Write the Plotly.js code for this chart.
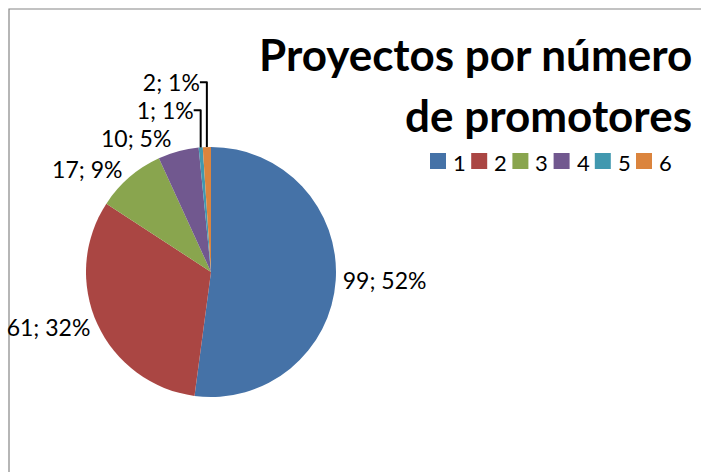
<!DOCTYPE html>
<html><head><meta charset="utf-8">
<script src="https://cdn.plot.ly/plotly-3.0.1.min.js"></script>
<style>html,body{margin:0;padding:0;background:#fff}#c{width:701px;height:472px}</style>
</head><body><div id="c"></div>
<script>
const categories = ['1','2','3','4','5','6'];
const values = [99, 61, 17, 10, 1, 2];
const colors = ['#4572A7','#AA4643','#89A54E','#71588F','#4198AF','#DB843D'];
const titleLines = ['Proyectos por número', 'de promotores'];

const W = 701, H = 472;
const FONT = 'Lato, "Open Sans", sans-serif';

const trace = {
  type: 'pie',
  labels: categories,
  values: values,
  sort: false,
  direction: 'clockwise',
  rotation: 0,
  marker: {colors: colors, line: {color: '#fff', width: 0}},
  texttemplate: '%{value}; %{percent:.0%}',
  textposition: 'outside',
  textfont: {family: FONT, size: 23, color: '#000'},
  domain: {x: [86/W, 336/W], y: [1 - 397/H, 1 - 147/H]},
  hoverinfo: 'none',
  showlegend: false
};

// custom legend (layout positions only; categories/colours come from the arrays)
const legShapes = [], legAnn = [];
categories.forEach((c, i) => {
  const x0 = 430 + i * 41.2;
  legShapes.push({type: 'rect', xref: 'paper', yref: 'paper',
    x0: x0 / W, x1: (x0 + 16) / W, y0: 1 - 169 / H, y1: 1 - 153 / H,
    fillcolor: colors[i], line: {width: 0}});
  legAnn.push({text: c, xref: 'paper', yref: 'paper', x: (x0 + 21) / W, y: 1 - 162 / H,
    xanchor: 'left', yanchor: 'middle', showarrow: false,
    font: {family: FONT, size: 22, color: '#000'}});
});

const layout = {
  width: W, height: H,
  margin: {l: 0, r: 0, t: 0, b: 0},
  paper_bgcolor: '#fff',
  showlegend: false,
  annotations: [
    {text: '<b>' + titleLines[0] + '</b>', xref: 'paper', yref: 'paper', x: 694 / W, y: 1 - 54 / H, xanchor: 'right', yanchor: 'middle', showarrow: false, font: {family: FONT, size: 44, color: '#000'}},
    {text: '<b>' + titleLines[1] + '</b>', xref: 'paper', yref: 'paper', x: 694 / W, y: 1 - 115 / H, xanchor: 'right', yanchor: 'middle', showarrow: false, font: {family: FONT, size: 44, color: '#000'}}
  ].concat(legAnn),
  shapes: [
    {type: 'rect', xref: 'paper', yref: 'paper', x0: 9 / W, x1: 1.2, y0: -0.2, y1: 1 - 9 / H, line: {color: '#868686', width: 1.2}, fillcolor: 'rgba(0,0,0,0)', layer: 'below'}
  ].concat(legShapes)
};

Plotly.newPlot('c', [trace], layout, {displayModeBar: false, staticPlot: true});
</script></body></html>
